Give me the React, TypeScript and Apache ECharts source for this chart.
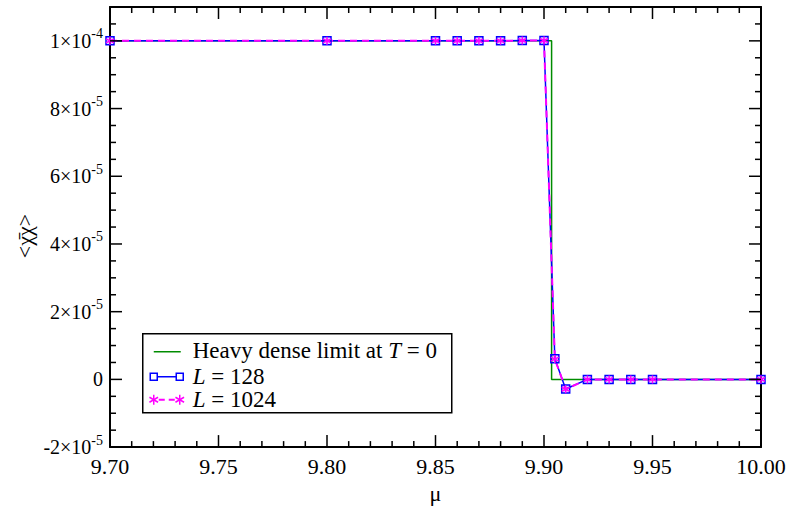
import React, { useEffect, useRef } from "react";
import * as echarts from "echarts";

const muValues = [9.70, 9.80, 9.85, 9.86, 9.87, 9.88, 9.89, 9.90, 9.905, 9.91, 9.92, 9.93, 9.94, 9.95, 10.00];
const chiL128 = [1.0e-4, 1.0e-4, 1.0e-4, 1.0e-4, 1.0e-4, 1.0e-4, 1.001e-4, 1.001e-4, 6.1e-6, -2.85e-6, 0, 0, 0, 0, 0];
const chiL1024 = [1.0e-4, 1.0e-4, 1.0e-4, 1.0e-4, 1.0e-4, 1.0e-4, 1.001e-4, 1.001e-4, 6.0e-6, -2.9e-6, 0, 0, 0, 0, 0];
const heavyMu = [9.70, 9.9035, 9.9035, 10.00];
const heavyChi = [1.0e-4, 1.0e-4, 0, 0];

const xMajorTicks = [9.70, 9.75, 9.80, 9.85, 9.90, 9.95, 10.00];
const yMajorTicks = [-2e-5, 0, 2e-5, 4e-5, 6e-5, 8e-5, 1e-4];
const X_MIN = 9.7;
const X_MAX = 10.0;
const Y_MIN = -2e-5;
const Y_MAX = 1.1e-4;

const legendLabels = ["Heavy dense limit at ", "T", " = 0", "L", " = 128", " = 1024"];
const xAxisName = "\u03BC";
const yAxisName = "<\u03C7\u0304\u03C7>";

const FONT = "Liberation Serif";
const ASTERISK = "path://M0,-5L0,5M-4.33,-2.5L4.33,2.5M-4.33,2.5L4.33,-2.5";

function yLabel(v: number): string {
  if (Math.abs(v) < 1e-12) return "{b|0}";
  const r = v / 2e-5;
  if (Math.abs(r - Math.round(r)) > 1e-6) return "";
  const e = Math.floor(Math.log10(Math.abs(v)) + 1e-9);
  const m = Math.round(v / Math.pow(10, e));
  return "{b|" + m + "\u00D710}{s|" + e + "}";
}

// tick positions in data units: [value, length(px)]
function xTickList(): number[][] {
  const out: number[][] = [];
  for (let i = 0; i < xMajorTicks.length; i++) {
    out.push([xMajorTicks[i], 12]);
    if (i < xMajorTicks.length - 1) {
      const step = (xMajorTicks[i + 1] - xMajorTicks[i]) / 5;
      for (let k = 1; k < 5; k++) out.push([xMajorTicks[i] + k * step, 6]);
    }
  }
  return out;
}
function yTickList(): number[][] {
  const out: number[][] = [];
  for (let i = 0; i < yMajorTicks.length; i++) {
    out.push([yMajorTicks[i], 12]);
    const next = i < yMajorTicks.length - 1 ? yMajorTicks[i + 1] : Y_MAX;
    for (let v = yMajorTicks[i] + 5e-6; v < next - 1e-9; v += 5e-6) out.push([v, 6]);
  }
  return out;
}

export default function App() {
  const ref = useRef<HTMLDivElement>(null);
  useEffect(() => {
    if (!ref.current) return;
    const chart = echarts.init(ref.current, null, { renderer: "svg" });
    const richLegend = {
      n: { fontFamily: FONT, fontSize: 23, color: "#000" },
      i: { fontFamily: FONT, fontSize: 23, fontStyle: "italic", color: "#000" },
    };
    const star = (cx: number, cy: number) => [
      { type: "polyline", shape: { points: [[cx, cy - 5], [cx, cy + 5]] }, style: { stroke: "#ff00ff", lineWidth: 1.5 } },
      { type: "polyline", shape: { points: [[cx - 4.3, cy - 2.5], [cx + 4.3, cy + 2.5]] }, style: { stroke: "#ff00ff", lineWidth: 1.5 } },
      { type: "polyline", shape: { points: [[cx - 4.3, cy + 2.5], [cx + 4.3, cy - 2.5]] }, style: { stroke: "#ff00ff", lineWidth: 1.5 } },
    ];
    const axLine = () => ({ show: true, onZero: false, lineStyle: { color: "#000", width: 2 } });
    chart.setOption({
      animation: false,
      grid: { left: 110, right: 37, top: 7, bottom: 46 },
      xAxis: [
        {
          type: "value",
          min: X_MIN,
          max: X_MAX,
          interval: 0.05,
          position: "bottom",
          splitLine: { show: false },
          axisLine: axLine(),
          axisTick: { show: false },
          axisLabel: { show: true, margin: 8, color: "#000", fontFamily: FONT, fontSize: 22, formatter: (v: number) => v.toFixed(2) },
          name: xAxisName,
          nameLocation: "middle",
          nameGap: 20,
          nameTextStyle: { color: "#000", fontFamily: FONT, fontSize: 22 },
        },
        {
          type: "value",
          min: X_MIN,
          max: X_MAX,
          interval: 0.05,
          position: "top",
          splitLine: { show: false },
          axisLine: axLine(),
          axisTick: { show: false },
          axisLabel: { show: false },
        },
      ],
      yAxis: [
        {
          type: "value",
          min: Y_MIN,
          max: Y_MAX,
          interval: 2e-5,
          position: "left",
          splitLine: { show: false },
          axisLine: axLine(),
          axisTick: { show: false },
          axisLabel: {
            show: true,
            margin: 7,
            formatter: yLabel,
            rich: {
              b: { fontFamily: FONT, fontSize: 20, color: "#000" },
              s: { fontFamily: FONT, fontSize: 14, color: "#000", padding: [0, 0, 14, 0] },
            },
          },
        },
        {
          type: "value",
          min: Y_MIN,
          max: Y_MAX,
          interval: 2e-5,
          position: "right",
          splitLine: { show: false },
          axisLine: axLine(),
          axisTick: { show: false },
          axisLabel: { show: false },
        },
      ],
      series: [
        {
          type: "line",
          data: heavyMu.map((m, i) => [m, heavyChi[i]]),
          symbol: "none",
          lineStyle: { color: "#008c00", width: 1.5 },
        },
        {
          type: "line",
          data: muValues.map((m, i) => [m, chiL128[i]]),
          symbol: "rect",
          symbolSize: 8,
          lineStyle: { color: "#0000ff", width: 1.5 },
          itemStyle: { color: "rgba(0,0,255,0.15)", borderColor: "#0000ff", borderWidth: 1.5 },
        },
        {
          type: "line",
          data: muValues.map((m, i) => [m, chiL1024[i]]),
          symbol: ASTERISK,
          symbolSize: 8,
          lineStyle: { color: "#ff00ff", width: 2, type: [7, 5] },
          itemStyle: { color: "#ff00ff", borderColor: "#ff00ff", borderWidth: 1.5 },
        },
      ],
    });

    // ticks placed through the chart's own scales
    const finder = { xAxisIndex: 0, yAxisIndex: 0 };
    const tickEls: any[] = [];
    const st = { stroke: "#000", lineWidth: 1.5 };
    xTickList().forEach(([v, len]) => {
      const b = chart.convertToPixel(finder, [v, Y_MIN]) as number[];
      const t = chart.convertToPixel(finder, [v, Y_MAX]) as number[];
      tickEls.push({ type: "line", z: 50, shape: { x1: b[0], y1: b[1], x2: b[0], y2: b[1] - len }, style: st });
      tickEls.push({ type: "line", z: 50, shape: { x1: t[0], y1: t[1], x2: t[0], y2: t[1] + len }, style: st });
    });
    yTickList().forEach(([v, len]) => {
      const l = chart.convertToPixel(finder, [X_MIN, v]) as number[];
      const r = chart.convertToPixel(finder, [X_MAX, v]) as number[];
      tickEls.push({ type: "line", z: 50, shape: { x1: l[0], y1: l[1], x2: l[0] + len, y2: l[1] }, style: st });
      tickEls.push({ type: "line", z: 50, shape: { x1: r[0], y1: r[1], x2: r[0] - len, y2: r[1] }, style: st });
    });

    chart.setOption({
      graphic: [
        {
          type: "text",
          x: 24,
          y: 236,
          rotation: Math.PI / 2,
          style: { text: yAxisName, fontFamily: FONT, fontSize: 22, fill: "#000", align: "center", verticalAlign: "middle" },
        },
        {
          type: "group",
          left: 142,
          top: 333,
          z: 60,
          children: [
            { type: "rect", shape: { x: 0, y: 0, width: 309, height: 79 }, style: { fill: "#fff", stroke: "#000", lineWidth: 1.5 } },
            { type: "line", shape: { x1: 11, y1: 18, x2: 38, y2: 18 }, style: { stroke: "#008c00", lineWidth: 1.5 } },
            {
              type: "text",
              x: 50,
              y: 17,
              style: {
                text: "{n|" + legendLabels[0] + "}{i|" + legendLabels[1] + "}{n|" + legendLabels[2] + "}",
                fontFamily: FONT,
                fontSize: 23,
                verticalAlign: "middle",
                rich: richLegend,
              },
            },
            { type: "line", shape: { x1: 11, y1: 43, x2: 38, y2: 43 }, style: { stroke: "#0000ff", lineWidth: 1.5 } },
            { type: "rect", shape: { x: 7.5, y: 39.5, width: 7, height: 7 }, style: { fill: "#fff", stroke: "#0000ff", lineWidth: 1.5 } },
            { type: "rect", shape: { x: 33.5, y: 39.5, width: 7, height: 7 }, style: { fill: "#fff", stroke: "#0000ff", lineWidth: 1.5 } },
            {
              type: "text",
              x: 50,
              y: 43,
              style: { text: "{i|" + legendLabels[3] + "}{n|" + legendLabels[4] + "}", fontFamily: FONT, fontSize: 23, verticalAlign: "middle", rich: richLegend },
            },
            { type: "line", shape: { x1: 16, y1: 66, x2: 33, y2: 66 }, style: { stroke: "#ff00ff", lineWidth: 2, lineDash: [6, 4] } },
            ...star(11, 66),
            ...star(37, 66),
            {
              type: "text",
              x: 50,
              y: 66,
              style: { text: "{i|" + legendLabels[3] + "}{n|" + legendLabels[5] + "}", fontFamily: FONT, fontSize: 23, verticalAlign: "middle", rich: richLegend },
            },
          ],
        },
        ...tickEls,
      ],
    });
    return () => chart.dispose();
  }, []);
  return <div ref={ref} style={{ position: "fixed", left: 0, top: 0, width: 798, height: 509, background: "#fff" }} />;
}
